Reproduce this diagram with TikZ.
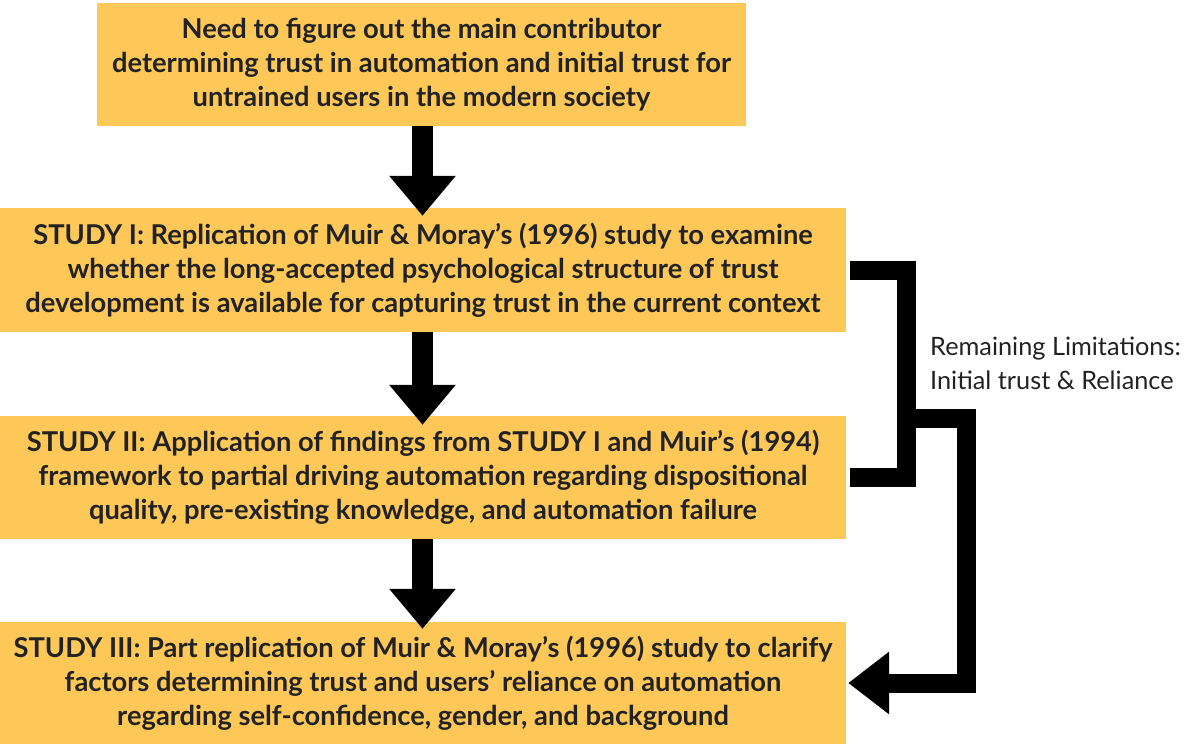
\documentclass[tikz,border=0pt]{standalone}
\usepackage{fontspec}
\setmainfont{Lato}
\usetikzlibrary{arrows.meta,calc}
\definecolor{boxfill}{RGB}{253,200,88}
\definecolor{txt}{RGB}{34,34,34}
\begin{document}
\begin{tikzpicture}[x=1pt,y=-1pt,
  stepbox/.style={fill=boxfill, inner sep=0pt, align=center, text=txt,
    font=\fontsize{27.3}{34}\selectfont\bfseries},
  blockarrow/.style={line width=21pt, draw=black,
    -{Triangle[width=64pt,length=40pt]}},
  bracketline/.style={line width=19pt, draw=black, line join=miter, line cap=butt}]
\useasboundingbox (0,0) rectangle (1195,744);

\node[stepbox, minimum width=649pt, minimum height=123pt] (b1) at (421.5,64.5)
  {Need to figure out the main contributor\\determining trust in automation and initial trust for\\untrained users in the modern society};
\node[stepbox, minimum width=846pt, minimum height=124pt] (b2) at (423,270)
  {STUDY I: Replication of Muir \& Moray’s (1996) study to examine\\whether the long-accepted psychological structure of trust\\development is available for capturing trust in the current context};
\node[stepbox, minimum width=846pt, minimum height=123pt] (b3) at (423,477.5)
  {STUDY II: Application of findings from STUDY I and Muir’s (1994)\\framework to partial driving automation regarding dispositional\\quality, pre-existing knowledge, and automation failure};
\node[stepbox, minimum width=846pt, minimum height=122pt] (b4) at (423,683)
  {STUDY III: Part replication of Muir \& Moray’s (1996) study to clarify\\factors determining trust and users’ reliance on automation\\regarding self-confidence, gender, and background};

\coordinate (ax) at (422.5,0);
\draw[blockarrow] (b1.south -| ax) -- ([yshift=-8pt]b2.north -| ax);
\draw[blockarrow] (b2.south -| ax) -- ([yshift=-9pt]b3.north -| ax);
\draw[blockarrow] (b3.south -| ax) -- ([yshift=-7pt]b4.north -| ax);

\coordinate (bx) at (906,0);
\coordinate (j) at (906,418.5);
\coordinate (cx) at (966.5,0);
\draw[bracketline] ([xshift=4pt]b2.east) -| (bx |- b3.east) -- ([xshift=4pt]b3.east);
\draw[bracketline] (bx |- b2.east) -- (bx |- b3.east);
\draw[bracketline, -{Triangle[width=60pt,length=41pt]}] (j) -| (cx |- b4.east) -- ([xshift=2pt]b4.east);

\node[anchor=base west, align=left, inner sep=0pt, text=txt,
  font=\fontsize{25.3}{34}\selectfont] (lbl) at (930,389)
  {Remaining Limitations:\\Initial trust \& Reliance};
\end{tikzpicture}
\end{document}
